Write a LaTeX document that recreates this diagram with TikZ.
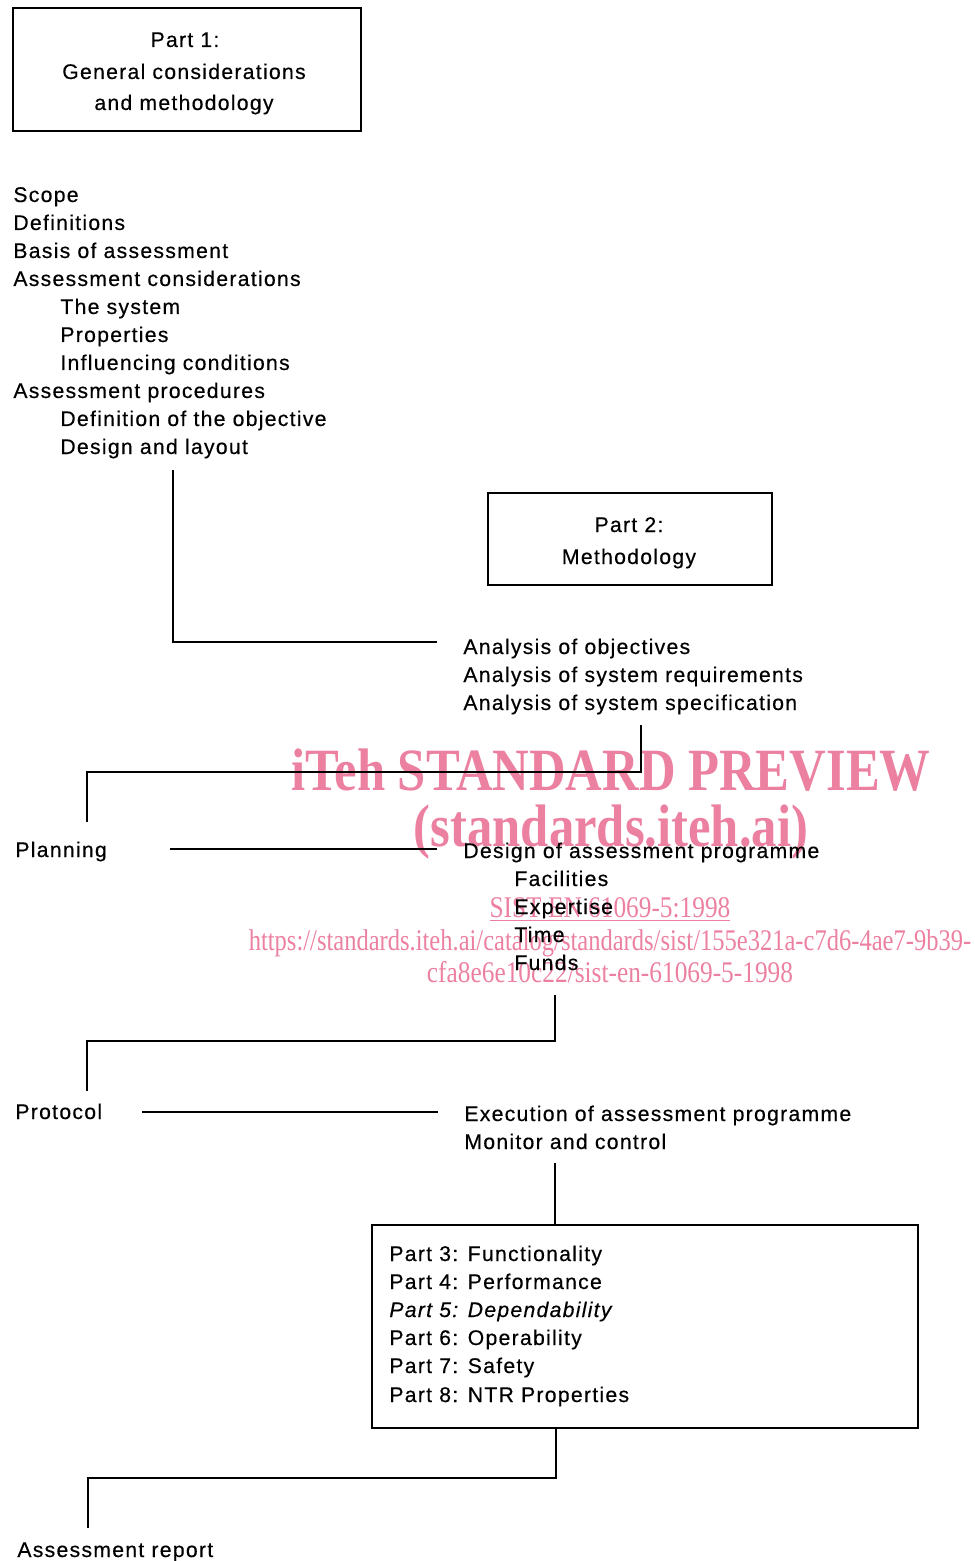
\documentclass[tikz,border=0pt]{standalone}
\usepackage{fontspec}
\usepackage{graphicx}
\setmainfont{Liberation Sans}[LetterSpace=6,FakeBold=0.4]
\newfontfamily\wmfont{Liberation Serif}
\definecolor{wm}{RGB}{236,128,160}
\begin{document}
\begin{tikzpicture}[x=0.5pt,y=-0.5pt,
  txt/.style={anchor=base west, inner sep=0pt, font=\fontsize{10.6}{12}\selectfont},
  ctxt/.style={anchor=base, inner sep=0pt, font=\fontsize{10.6}{12}\selectfont},
  box/.style={draw, line width=1pt, inner sep=0pt},
  link/.style={line width=1pt, line join=miter},
  wmbig/.style={anchor=base, inner sep=0pt, text=wm, font=\wmfont\bfseries\fontsize{30}{30}\selectfont},
  wmsmall/.style={anchor=base, inner sep=0pt, text=wm, font=\wmfont\fontsize{15}{15}\selectfont}]
\useasboundingbox (0,0) rectangle (974,1561);

% watermark
\node[wmbig] (wm1) at (611,790) {\scalebox{0.845}[1]{iTeh STANDARD PREVIEW}};
\node[wmbig] (wm2) at (611,846) {\scalebox{0.845}[1]{(standards.iteh.ai)}};
\node[wmsmall] (wm3) at (610,917) {\scalebox{0.845}[1]{\underline{SIST EN 61069-5:1998}}};
\node[wmsmall] (wm4) at (610,950) {\scalebox{0.818}[1]{https://standards.iteh.ai/catalog/standards/sist/155e321a-c7d6-4ae7-9b39-}};
\node[wmsmall] (wm5) at (610,982) {\scalebox{0.845}[1]{cfa8e6e10c22/sist-en-61069-5-1998}};

% boxes
\node[box, minimum width=174pt, minimum height=61.5pt] (box1) at (187,69.5) {};
\node[ctxt] (b1a) at (185,47) {Part 1:};
\node[ctxt] (b1b) at (184,79) {General considerations};
\node[ctxt] (b1c) at (184,110) {and methodology};

\node[box, minimum width=142pt, minimum height=46pt] (box2) at (630,539) {};
\node[ctxt] (b2a) at (629,532) {Part 2:};
\node[ctxt] (b2b) at (629,564) {Methodology};

\node[box, minimum width=273pt, minimum height=101.5pt] (box3) at (645,1326.5) {};
\node[txt] (p3) at (389,1261) {Part 3: Functionality};
\node[txt] (p4) at (389,1289) {Part 4: Performance};
\node[txt] (p5) at (389,1317) {\itshape Part 5: Dependability};
\node[txt] (p6) at (389,1345) {Part 6: Operability};
\node[txt] (p7) at (389,1373) {Part 7: Safety};
\node[txt] (p8) at (389,1402) {Part 8: NTR Properties};

% left list
\node[txt] (l1) at (13,202) {Scope};
\node[txt] (l2) at (13,230) {Definitions};
\node[txt] (l3) at (13,258) {Basis of assessment};
\node[txt] (l4) at (13,286) {Assessment considerations};
\node[txt] (l5) at (60,314) {The system};
\node[txt] (l6) at (60,342) {Properties};
\node[txt] (l7) at (60,370) {Influencing conditions};
\node[txt] (l8) at (13,398) {Assessment procedures};
\node[txt] (l9) at (60,426) {Definition of the objective};
\node[txt] (l10) at (60,454) {Design and layout};

% analysis
\node[txt] (a1) at (463,654) {Analysis of objectives};
\node[txt] (a2) at (463,682) {Analysis of system requirements};
\node[txt] (a3) at (463,710) {Analysis of system specification};

% planning
\node[txt] (plan) at (15,857) {Planning};
\node[txt] (d1) at (463,858) {Design of assessment programme};
\node[txt] (d2) at (514,886) {Facilities};
\node[txt] (d3) at (514,914) {Expertise};
\node[txt] (d4) at (514,942) {Time};
\node[txt] (d5) at (514,970) {Funds};

% protocol
\node[txt] (prot) at (15,1119) {Protocol};
\node[txt] (e1) at (464,1121) {Execution of assessment programme};
\node[txt] (e2) at (464,1149) {Monitor and control};

\node[txt] (rep) at (17,1557) {Assessment report};

% connector coordinates
\coordinate (c1a) at (173,470);
\coordinate (c1b) at (437,642);
\coordinate (c2a) at (641,725);
\coordinate (c2b) at (87,822);
\coordinate (c3a) at (170,849);
\coordinate (c3b) at (437,849);
\coordinate (c4a) at (555,995);
\coordinate (c4b) at (87,1091);
\coordinate (c5a) at (142,1112);
\coordinate (c5b) at (438,1112);
\coordinate (c6a) at (555,1163);
\coordinate (c7a) at (556,1478);
\coordinate (c7b) at (88,1528);

% connectors
\draw[link] (c1a) |- (c1b);
\draw[link] (c2a) -- (641,772) -| (c2b);
\draw[link] (c3a) -- (c3b);
\draw[link] (c4a) -- (555,1041) -| (c4b);
\draw[link] (c5a) -- (c5b);
\draw[link] (c6a) -- (c6a |- box3.north);
\draw[link] (c7a |- box3.south) -- (c7a) -| (c7b);
\end{tikzpicture}
\end{document}
